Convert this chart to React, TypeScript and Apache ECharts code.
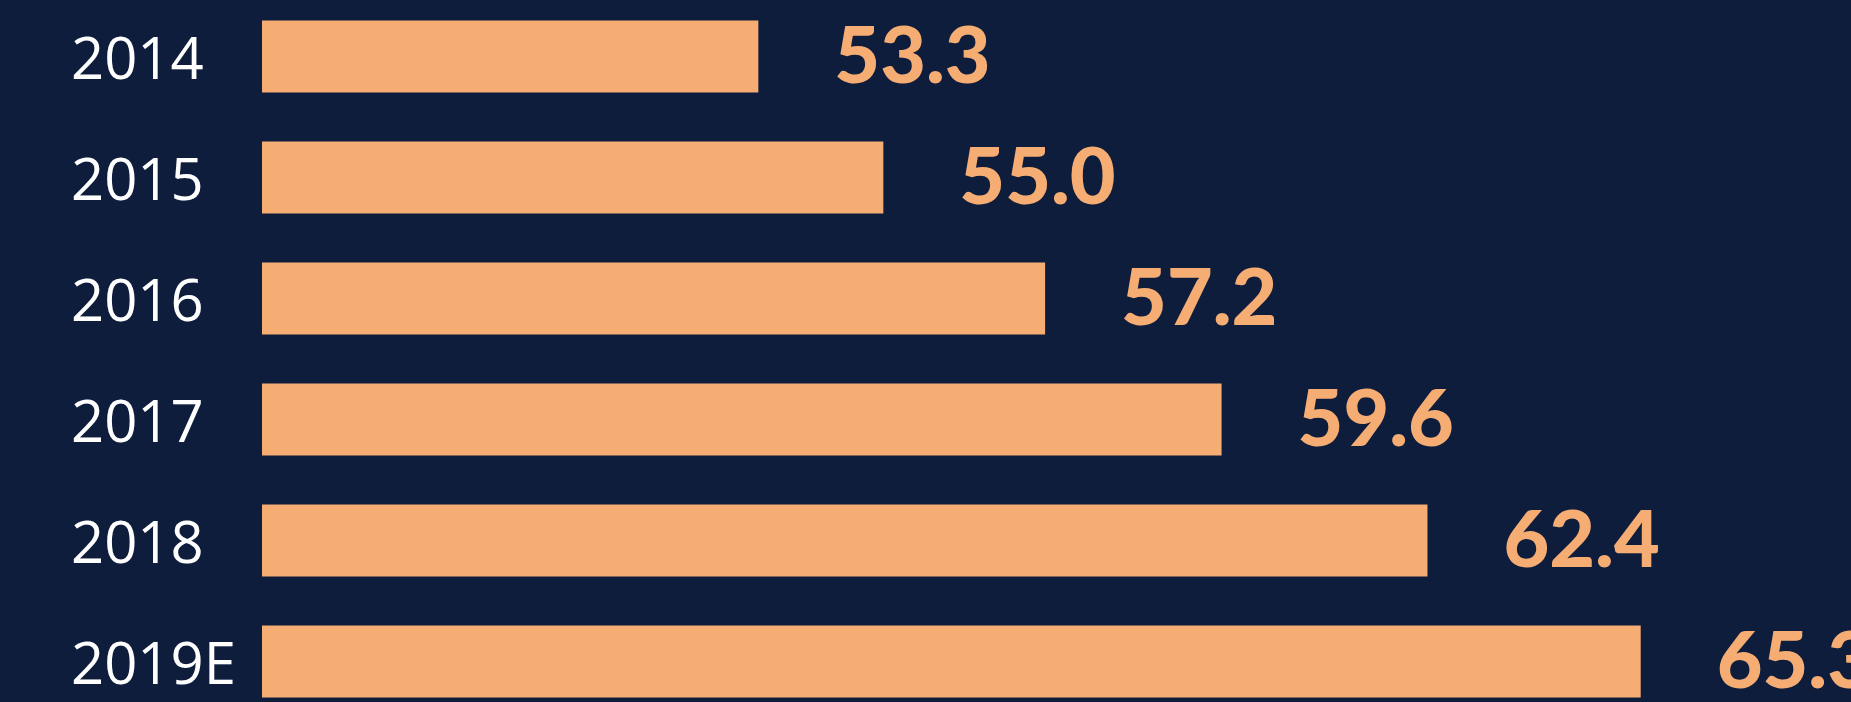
import React, { useEffect, useRef } from "react";
import * as echarts from "echarts";

const categories = ["2014", "2015", "2016", "2017", "2018", "2019E"];
const values = [53.3, 55.0, 57.2, 59.6, 62.4, 65.3];

export default function App() {
  const ref = useRef<HTMLDivElement>(null);
  useEffect(() => {
    if (!ref.current) return;
    const chart = echarts.init(ref.current, undefined, { renderer: "svg" });
    chart.setOption({
      animation: false,
      backgroundColor: "#0F1D3D",
      grid: {
        left: 262,
        width: 1589,
        top: -4,
        height: 726,
        containLabel: false,
        outerBoundsMode: "none",
      },
      xAxis: {
        type: "value",
        min: 46.55,
        max: 68.16,
        show: false,
      },
      yAxis: {
        type: "category",
        data: categories,
        inverse: true,
        axisLine: { show: false },
        axisTick: { show: false },
        splitLine: { show: false },
        axisLabel: {
          align: "left",
          margin: 191,
          color: "#FFFFFF",
          fontFamily: "Open Sans",
          fontWeight: 500,
          fontSize: 58,
        },
      },
      series: [
        {
          type: "bar",
          data: values,
          barWidth: 72,
          itemStyle: { color: "#F5AD74" },
          label: {
            show: true,
            position: "right",
            distance: 76,
            offset: [0, -4],
            color: "#F5AD74",
            fontFamily: "Lato",
            fontWeight: 900,
            fontSize: 79,
            formatter: (p: any) => Number(p.value).toFixed(1),
          },
        },
      ],
    });
    return () => chart.dispose();
  }, []);
  return (
    <div
      ref={ref}
      style={{ position: "fixed", left: 0, top: 0, width: 1851, height: 702 }}
    />
  );
}
